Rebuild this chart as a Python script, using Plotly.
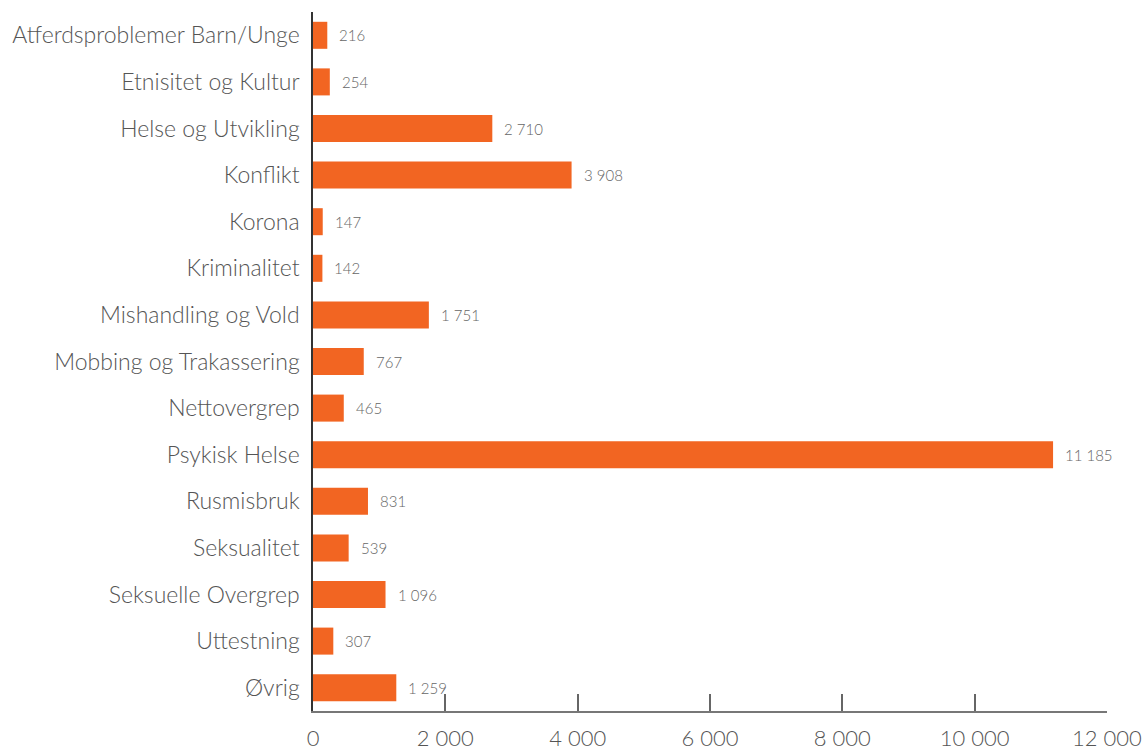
import plotly.graph_objects as go

categories = [
    "Atferdsproblemer Barn/Unge",
    "Etnisitet og Kultur",
    "Helse og Utvikling",
    "Konflikt",
    "Korona",
    "Kriminalitet",
    "Mishandling og Vold",
    "Mobbing og Trakassering",
    "Nettovergrep",
    "Psykisk Helse",
    "Rusmisbruk",
    "Seksualitet",
    "Seksuelle Overgrep",
    "Uttestning",
    "Øvrig",
]
values = [216, 254, 2710, 3908, 147, 142, 1751, 767, 465, 11185, 831, 539, 1096, 307, 1259]
tick_values = [0, 2000, 4000, 6000, 8000, 10000, 12000]


def fmt(n):
    return f"{n:,}".replace(",", " ")


ORANGE = "#F26522"
TEXT = "#555555"
FONT = "Lato"

fig = go.Figure(
    go.Bar(
        x=values,
        y=categories,
        orientation="h",
        marker=dict(color=ORANGE, line=dict(width=0)),
        hoverinfo="skip",
    )
)

# value labels to the right of each bar
for cat, v in zip(categories, values):
    fig.add_annotation(
        x=v, y=cat, text=fmt(v), showarrow=False,
        xanchor="left", yanchor="middle", xshift=10,
        font=dict(family=FONT, size=15, color="#666666", weight=300),
    )

fig.update_layout(
    width=1148, height=756,
    margin=dict(l=313, r=41, t=12, b=45),
    paper_bgcolor="white", plot_bgcolor="white",
    bargap=0.42,
    showlegend=False,
    font=dict(family=FONT, color=TEXT),
)
fig.update_xaxes(
    range=[0, 12000],
    tickvals=tick_values,
    ticktext=[fmt(t) for t in tick_values],
    ticks="inside", ticklen=17, tickwidth=1.5, tickcolor="#666666",
    showline=True, linecolor="#777777", linewidth=2,
    showgrid=False, zeroline=False,
    tickfont=dict(family=FONT, size=22, color=TEXT, weight=300),
    ticklabelstandoff=7,
    automargin=False,
    fixedrange=True,
)
fig.update_yaxes(
    categoryorder="array", categoryarray=categories,
    autorange="reversed",
    ticks="", showline=True, linecolor="#333333", linewidth=1.5,
    showgrid=False, zeroline=False,
    tickfont=dict(family=FONT, size=23, color=TEXT, weight=300),
    ticklabelstandoff=7,
    automargin=False,
    fixedrange=True,
)

fig.write_html("out.html")
